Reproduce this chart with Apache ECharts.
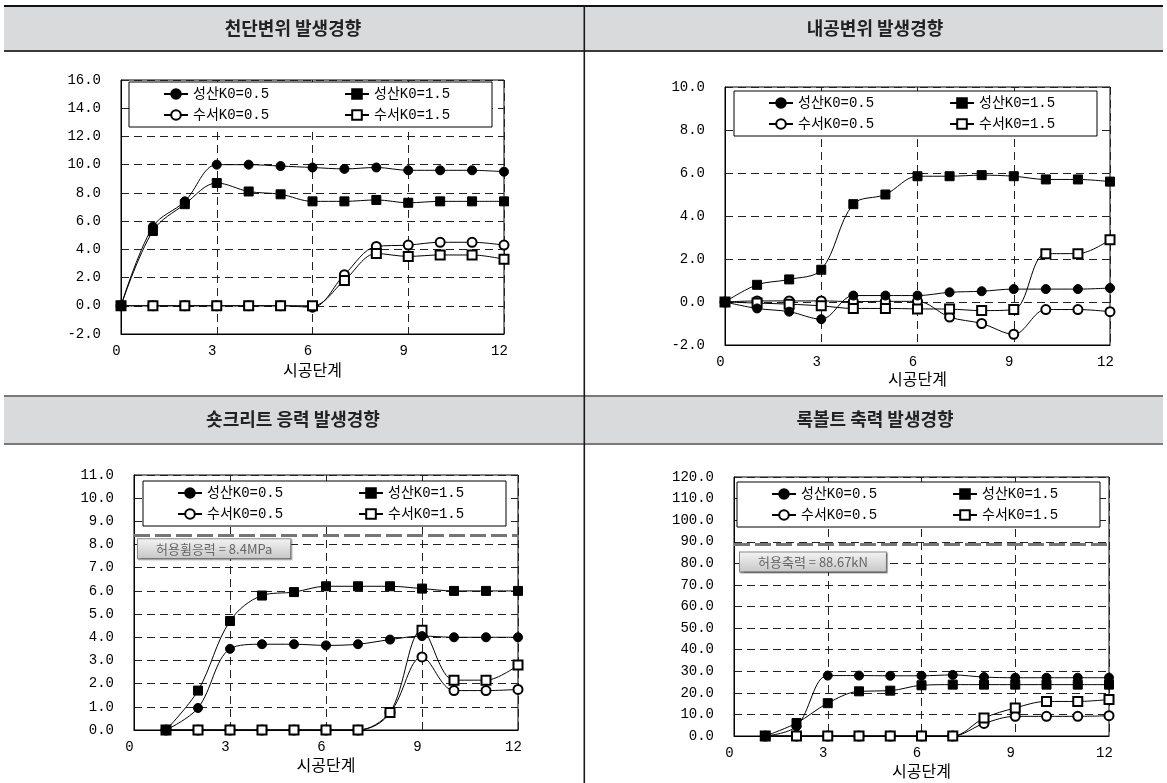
<!DOCTYPE html>
<html>
<head>
<meta charset="utf-8">
<script src="https://cdn.jsdelivr.net/npm/echarts@6/dist/echarts.min.js"></script>
<style>
  html, body { margin: 0; padding: 0; background: #fff; }
  #chart { width: 1167px; height: 783px; }
</style>
</head>
<body>
<div id="chart"></div>
<script>
// ---- data ----
const panelTitles = ['천단변위 발생경향', '내공변위 발생경향', '숏크리트 응력 발생경향', '록볼트 축력 발생경향'];
const seriesNames = ['성산K0=0.5', '성산K0=1.5', '수서K0=0.5', '수서K0=1.5'];
const stageAxisName = '시공단계';

// construction stages
const stagesFromZero = [0, 1, 2, 3, 4, 5, 6, 7, 8, 9, 10, 11, 12];
const stagesFromOne = [1, 2, 3, 4, 5, 6, 7, 8, 9, 10, 11, 12];
const stageTicks = [0, 12, 3];          // min, max, step

// crown settlement
const crownRange = [-2, 16, 2];
const crownSS05 = [0, 5.6, 7.4, 10.0, 10.0, 9.9, 9.8, 9.7, 9.8, 9.6, 9.6, 9.6, 9.5];
const crownSS15 = [0, 5.3, 7.2, 8.7, 8.1, 7.9, 7.4, 7.4, 7.5, 7.3, 7.4, 7.4, 7.4];
const crownSU05 = [0, 0, 0, 0, 0, 0, -0.1, 2.2, 4.2, 4.3, 4.5, 4.5, 4.3];
const crownSU15 = [0, 0, 0, 0, 0, 0, 0, 1.8, 3.7, 3.5, 3.6, 3.6, 3.3];

// convergence
const convRange = [-2, 10, 2];
const convSS05 = [0, -0.3, -0.45, -0.8, 0.3, 0.3, 0.3, 0.45, 0.5, 0.6, 0.6, 0.6, 0.65];
const convSS15 = [0, 0.8, 1.05, 1.5, 4.55, 5.0, 5.85, 5.85, 5.9, 5.85, 5.7, 5.7, 5.6];
const convSU05 = [0, 0.05, 0.05, 0.05, 0.02, 0.03, 0.03, -0.7, -1.0, -1.5, -0.35, -0.35, -0.45];
const convSU15 = [0, -0.05, -0.1, -0.18, -0.3, -0.3, -0.32, -0.33, -0.4, -0.35, 2.25, 2.25, 2.9];

// shotcrete stress
const shotRange = [0, 11, 1];
const shotSS05 = [0, 0.95, 3.5, 3.7, 3.7, 3.65, 3.7, 3.9, 4.05, 4.0, 4.0, 4.0];
const shotSS15 = [0, 1.7, 4.7, 5.8, 5.95, 6.2, 6.2, 6.2, 6.1, 6.0, 6.0, 6.0];
const shotSU05 = [0, 0, 0, 0, 0, 0, 0, 0.75, 3.15, 1.7, 1.7, 1.75];
const shotSU15 = [0, 0, 0, 0, 0, 0, 0, 0.75, 4.3, 2.15, 2.15, 2.8];
const shotLimit = 8.4;
const shotLimitLabel = '허용휨응력 = 8.4MPa';

// rock bolt axial force
const boltRange = [0, 120, 10];
const boltSS05 = [0, 4.5, 28.0, 28.0, 27.9, 27.9, 28.3, 27.3, 27.0, 27.0, 27.0, 27.0];
const boltSS15 = [0, 6.0, 15.2, 20.7, 21.0, 23.5, 23.8, 23.8, 23.8, 23.8, 23.8, 23.8];
const boltSU05 = [0, 0, 0, 0, 0, 0, 0, 5.8, 9.1, 9.1, 9.1, 9.4];
const boltSU15 = [0, 0, 0, 0, 0, 0, 0, 8.3, 13.0, 16.0, 16.0, 16.9];
const boltLimit = 88.67;
const boltLimitLabel = '허용축력 = 88.67kN';

// ---- styling & layout ----
const MONO = "'Liberation Mono', 'Noto Sans CJK KR', monospace";
const HANGUL = "'Noto Sans CJK KR', sans-serif";
const symbols = ['circle', 'rect', 'emptyCircle', 'emptyRect'];
const drawOrder = [2, 3, 0, 1];   // open markers below filled ones

const panels = [
  { stages: stagesFromZero, range: crownRange, values: [crownSS05, crownSS15, crownSU05, crownSU15],
    grid: { left: 121, top: 80, width: 383, height: 254 }, legendBox: [129, 82], nameGap: 28 },
  { stages: stagesFromZero, range: convRange, values: [convSS05, convSS15, convSU05, convSU15],
    grid: { left: 725, top: 87, width: 385, height: 258 }, legendBox: [734, 91], nameGap: 26 },
  { stages: stagesFromOne, range: shotRange, values: [shotSS05, shotSS15, shotSU05, shotSU15],
    grid: { left: 134, top: 475, width: 384, height: 255 }, legendBox: [143, 481], nameGap: 27,
    limit: shotLimit, limitLabel: shotLimitLabel, limitLabelDist: [4, 4] },
  { stages: stagesFromOne, range: boltRange, values: [boltSS05, boltSS15, boltSU05, boltSU15],
    grid: { left: 734, top: 477, width: 375, height: 259 }, legendBox: [737, 482], nameGap: 27,
    limit: boltLimit, limitLabel: boltLimitLabel, limitLabelDist: [6, 8] }
];

const grids = [], xAxes = [], yAxes = [], legends = [], series = [];

panels.forEach((p, pi) => {
  grids.push(Object.assign({ show: true, borderColor: '#000', borderWidth: 1, backgroundColor: 'transparent' }, p.grid));

  xAxes.push({
    type: 'value', gridIndex: pi,
    min: stageTicks[0], max: stageTicks[1], interval: stageTicks[2],
    name: stageAxisName, nameLocation: 'middle', nameGap: p.nameGap,
    nameTextStyle: { fontFamily: HANGUL, fontSize: 16, color: '#000' },
    axisLine: { show: true, onZero: false, lineStyle: { color: '#000', width: 1 } },
    axisTick: { show: false },
    axisLabel: { fontFamily: MONO, fontSize: 14, color: '#000', margin: 10, padding: [0, 9, 0, 0] },
    splitLine: { show: true, lineStyle: { color: '#222', width: 1, type: [8, 5] } }
  });

  yAxes.push({
    type: 'value', gridIndex: pi,
    min: p.range[0], max: p.range[1], interval: p.range[2],
    axisLine: { show: true, lineStyle: { color: '#000', width: 1 } },
    axisTick: { show: false },
    axisLabel: { fontFamily: MONO, fontSize: 14, color: '#000', margin: 20, formatter: v => v.toFixed(1) },
    splitLine: { show: true, lineStyle: { color: '#222', width: 1, type: [8, 5] } }
  });

  // two-column legend inside a framed white box
  const [bx, by] = p.legendBox;
  const legendText = { fontFamily: MONO, fontSize: 14, color: '#000', width: 100, lineHeight: 14 };
  legends.push({
    left: bx, top: by, orient: 'vertical', itemGap: 7, itemWidth: 24, itemHeight: 12,
    padding: [5, 199, 5, 34], backgroundColor: '#fff', borderColor: '#000', borderWidth: 1, borderRadius: 0,
    selectedMode: false, data: [seriesNames[0], seriesNames[2]], textStyle: legendText, z: 5
  });
  legends.push({
    left: bx + 215, top: by + 5, orient: 'vertical', itemGap: 7, itemWidth: 24, itemHeight: 12,
    padding: 0, selectedMode: false, data: [seriesNames[1], seriesNames[3]], textStyle: legendText, z: 6
  });

  drawOrder.forEach((si, k) => {
    const s = {
      name: seriesNames[si], type: 'line', xAxisIndex: pi, yAxisIndex: pi,
      data: p.stages.map((x, i) => [x, p.values[si][i]]),
      smooth: 0.35, symbol: symbols[si], symbolSize: 9, showSymbol: true,
      lineStyle: { color: '#000', width: 1 },
      itemStyle: { color: '#000', borderColor: '#000', borderWidth: 1 },
      emphasis: { disabled: true }, silent: true, z: 2 + k * 0.1
    };
    if (p.limit != null && k === 0) {
      s.markLine = {
        silent: true, symbol: 'none', animation: false,
        lineStyle: { color: '#767676', width: 3, type: [16, 5] },
        label: {
          show: true, position: 'insideStartBottom', distance: p.limitLabelDist,
          formatter: p.limitLabel, fontFamily: HANGUL, fontSize: 13, color: '#666', lineHeight: 15,
          padding: [2, 18, 2, 18],
          backgroundColor: { type: 'linear', x: 0, y: 0, x2: 0, y2: 1,
            colorStops: [{ offset: 0, color: '#f4f4f4' }, { offset: 1, color: '#c6c6c6' }] },
          borderColor: '#8a8a8a', borderWidth: 1,
          shadowColor: 'rgba(0,0,0,0.35)', shadowOffsetX: 1, shadowOffsetY: 1, shadowBlur: 1
        },
        data: [{ yAxis: p.limit }]
      };
    }
    series.push(s);
  });
});

// panel frames: header bars, rules and the centre divider
const graphics = [
  { type: 'rect', shape: { x: 4, y: 7, width: 1159, height: 43 }, style: { fill: '#d9dadc' }, z: 0 },
  { type: 'rect', shape: { x: 4, y: 5, width: 1159, height: 2 }, style: { fill: '#111' }, z: 1 },
  { type: 'rect', shape: { x: 4, y: 50, width: 1159, height: 2 }, style: { fill: '#3a3a3a' }, z: 1 },
  { type: 'rect', shape: { x: 4, y: 397, width: 1159, height: 46 }, style: { fill: '#d9dadc' }, z: 0 },
  { type: 'rect', shape: { x: 4, y: 395, width: 1159, height: 2 }, style: { fill: '#7a7a7a' }, z: 1 },
  { type: 'rect', shape: { x: 4, y: 443, width: 1159, height: 2 }, style: { fill: '#7a7a7a' }, z: 1 },
  { type: 'rect', shape: { x: 583.5, y: 5, width: 1.6, height: 778 }, style: { fill: '#1a1a1a' }, z: 2 }
];
const titleCentres = [[293, 28], [875, 28], [293, 419], [875, 419]];
panelTitles.forEach((t, i) => {
  graphics.push({
    type: 'text', x: titleCentres[i][0], y: titleCentres[i][1], z: 3,
    style: { text: t, fill: '#222', font: "bold 18px 'Noto Sans CJK KR', sans-serif", align: 'center', verticalAlign: 'middle' }
  });
});

const chart = echarts.init(document.getElementById('chart'), null, { renderer: 'canvas' });
chart.setOption({
  backgroundColor: '#fff',
  animation: false,
  grid: grids,
  xAxis: xAxes,
  yAxis: yAxes,
  legend: legends,
  series: series,
  graphic: graphics
});
</script>
</body>
</html>
